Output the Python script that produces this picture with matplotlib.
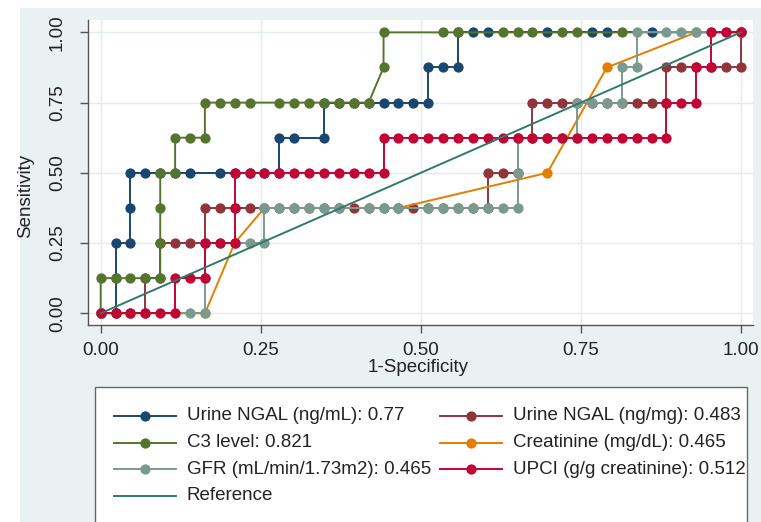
import numpy as np
import matplotlib
matplotlib.use("Agg")
import matplotlib.pyplot as plt
from matplotlib.lines import Line2D
from matplotlib.patches import Rectangle
import matplotlib.transforms as mtransforms

plt.rcParams['font.family'] = ['Liberation Sans', 'DejaVu Sans']

# ---------------- data (counts of false positives / true positives) -------------
N_NEG = 43
N_POS = 8

ngal_ml_fp = [0, 1, 1, 1, 2, 2, 2, 3, 4, 5, 6, 8, 9, 10, 11, 12, 12, 13, 15, 15, 16, 17, 18,
              19, 20, 21, 22, 22, 23, 24, 24, 25, 26, 30, 33, 34, 37, 43]
ngal_ml_tp = [0, 0, 1, 2, 2, 3, 4, 4, 4, 4, 4, 4, 4, 4, 4, 4, 5, 5, 5, 6, 6, 6, 6,
              6, 6, 6, 6, 7, 7, 7, 8, 8, 8, 8, 8, 8, 8, 8]

ngal_mg_fp = [0, 1, 2, 3, 3, 4, 4, 5, 6, 7, 7, 8, 9, 10, 11, 12, 13, 14, 15, 16, 17, 18, 19,
              20, 21, 22, 23, 24, 25, 26, 26, 27, 28, 28, 29, 29, 30, 31, 32, 33, 34, 35,
              36, 37, 38, 38, 39, 40, 41, 42, 43, 43]
ngal_mg_tp = [0, 0, 0, 0, 1, 1, 2, 2, 2, 2, 3, 3, 3, 3, 3, 3, 3, 3, 3, 3, 3, 3, 3,
              3, 3, 3, 3, 3, 3, 3, 4, 4, 4, 5, 5, 6, 6, 6, 6, 6, 6, 6,
              6, 6, 6, 7, 7, 7, 7, 7, 7, 8]

c3_fp = [0, 0, 1, 2, 3, 4, 4, 4, 4, 5, 5, 6, 7, 7, 8, 9, 10, 12, 13, 14, 15, 16, 17, 18,
         19, 19, 23, 24, 27, 28, 29, 31, 32, 35, 43]
c3_tp = [0, 1, 1, 1, 1, 1, 2, 3, 4, 4, 5, 5, 5, 6, 6, 6, 6, 6, 6, 6, 6, 6, 6, 6,
         7, 8, 8, 8, 8, 8, 8, 8, 8, 8, 8]

creat_fp = [0, 7, 9, 11, 20, 30, 34, 40, 43]
creat_tp = [0, 0, 2, 3, 3, 4, 7, 8, 8]

gfr_fp = [0, 6, 7, 7, 7, 8, 9, 10, 11, 11, 12, 13, 14, 15, 16, 18, 19, 20, 22, 23, 24, 25,
          26, 27, 28, 28, 28, 29, 30, 31, 32, 32, 33, 34, 35, 35, 36, 36, 38, 39, 40, 41,
          42, 43]
gfr_tp = [0, 0, 0, 1, 2, 2, 2, 2, 2, 3, 3, 3, 3, 3, 3, 3, 3, 3, 3, 3, 3, 3,
          3, 3, 3, 4, 5, 5, 5, 5, 5, 6, 6, 6, 6, 7, 7, 8, 8, 8, 8, 8,
          8, 8]

upci_fp = [0, 1, 2, 3, 4, 5, 5, 6, 7, 7, 8, 9, 9, 9, 10, 11, 12, 13, 14, 15, 16, 17, 18, 19,
           19, 20, 21, 22, 23, 24, 25, 26, 27, 28, 29, 30, 31, 32, 33, 34, 35, 36, 37, 38,
           38, 39, 40, 40, 41, 41, 42, 43]
upci_tp = [0, 0, 0, 0, 0, 0, 1, 1, 1, 2, 2, 2, 3, 4, 4, 4, 4, 4, 4, 4, 4, 4, 4, 4,
           5, 5, 5, 5, 5, 5, 5, 5, 5, 5, 5, 5, 5, 5, 5, 5, 5, 5, 5, 5,
           6, 6, 6, 7, 7, 8, 8, 8]

labels = ["Urine NGAL (ng/mL): 0.77", "Urine NGAL (ng/mg): 0.483", "C3 level: 0.821",
          "Creatinine (mg/dL): 0.465", "GFR (mL/min/1.73m2): 0.465",
          "UPCI (g/g creatinine): 0.512"]
ref_label = "Reference"
ticks = [0.0, 0.25, 0.5, 0.75, 1.0]

series = [(ngal_ml_fp, ngal_ml_tp), (ngal_mg_fp, ngal_mg_tp), (c3_fp, c3_tp),
          (creat_fp, creat_tp), (gfr_fp, gfr_tp), (upci_fp, upci_tp)]
colors = ["#1a476f", "#90353b", "#55752f", "#e37e00", "#7a9a8f", "#c10534"]
ref_color = "#2f7b6b"

# ---------------- figure -------------
W, H = 761, 522
fig = plt.figure(figsize=(W / 100, H / 100), dpi=100, facecolor="white")
bg = "#eaf1f3"
# light graph region (image is cropped with white strip on left/top)
fig.patches.append(Rectangle((20 / W, 0), 1 - 20 / W, 1 - 8 / H, transform=fig.transFigure,
                             facecolor=bg, edgecolor="none", zorder=-10))

ax = fig.add_axes([88 / W, 1 - 325 / H, (753 - 88) / W, (325 - 20) / H])
ax.set_facecolor("white")
ax.set_xlim(-0.0198, 1.019)
ax.set_ylim(-0.0417, 1.044)

for s in ["top", "right"]:
    ax.spines[s].set_visible(False)
for s in ["left", "bottom"]:
    ax.spines[s].set_color("#555555")
    ax.spines[s].set_linewidth(1.0)

ax.set_xticks(ticks)
ax.set_yticks(ticks)
ax.set_xticklabels([f"{t:.2f}" for t in ticks])
ax.set_yticklabels([f"{t:.2f}" for t in ticks], rotation=90, va="center")
ax.tick_params(axis="both", length=6, width=1.0, color="#555555", labelsize=13.5,
               labelcolor="#222222")
ax.tick_params(axis="x", pad=6)
ax.tick_params(axis="y", pad=10)
ax.grid(True, color="#e3ebef", linewidth=1.0)
ax.set_axisbelow(True)

for (fp, tp), c in zip(series, colors):
    x = np.array(fp) / N_NEG
    y = np.array(tp) / N_POS
    ax.plot(x, y, color=c, lw=1.4, marker="o", markersize=7.4, markeredgewidth=0,
            clip_on=False, zorder=3)
ax.plot([0, 1], [0, 1], color=ref_color, lw=1.4, zorder=4)

ax.set_xlabel("1-Specificity", fontsize=13.5, color="#222222")
ax.xaxis.set_label_coords((418 - 88) / 665, (325 - 367) / 305)
ax.xaxis.label.set_va("center")
ax.set_ylabel("Sensitivity", fontsize=13.5, color="#222222")
ax.yaxis.set_label_coords((26 - 88) / 665, (325 - 196) / 305)
ax.yaxis.label.set_va("center")

# ---------------- legend (manual box, two columns, row-wise order) -------------
px = mtransforms.Affine2D().scale(1 / W, -1 / H).translate(0, 1) + fig.transFigure
fig.patches.append(Rectangle((95, 387), 652, 150, transform=px, facecolor="white",
                             edgecolor="#666666", linewidth=1.0, zorder=-5))
entries = list(zip(labels, colors)) + [(ref_label, ref_color)]
col_x = [114, 440]
row_y = [416, 442.5, 469, 495.5]
for i, (lab, c) in enumerate(entries):
    if i < 6:
        col, row = i % 2, i // 2
    else:
        col, row = 0, 3
    x0 = col_x[col]
    yy = row_y[row]
    fig.add_artist(Line2D([x0, x0 + 62], [yy, yy], transform=px, color=c, lw=1.4))
    if i < 6:
        fig.add_artist(Line2D([x0 + 31], [yy], transform=px, color=c, marker="o",
                              markersize=7.4, markeredgewidth=0, lw=0))
    fig.text(x0 + 73, yy, lab, transform=px, fontsize=13.5, va="center", ha="left",
             color="#222222")

fig.savefig("out.png", dpi=100, facecolor=fig.get_facecolor())
